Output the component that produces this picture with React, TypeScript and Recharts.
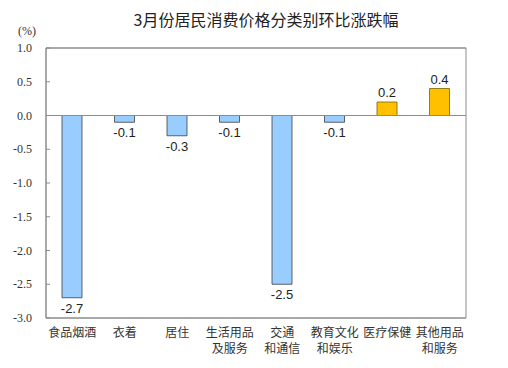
import { BarChart, Bar, XAxis, YAxis, Cell, LabelList, ReferenceLine, CartesianGrid } from "recharts";

const categories = [
  "食品烟酒",
  "衣着",
  "居住",
  "生活用品\n及服务",
  "交通\n和通信",
  "教育文化\n和娱乐",
  "医疗保健",
  "其他用品\n和服务",
];
const changes = [-2.7, -0.1, -0.3, -0.1, -2.5, -0.1, 0.2, 0.4];
const yTicks = [-3.0, -2.5, -2.0, -1.5, -1.0, -0.5, 0.0, 0.5, 1.0];

const data = categories.map((name, i) => ({ name, value: changes[i] }));

const AXIS = "#8c8c8c";

const XTick = (props: any) => {
  const { x, y, payload } = props;
  const lines = String(payload.value).split("\n");
  return (
    <g>
      {lines.map((l, i) => (
        <text
          key={i}
          x={x}
          y={y + 19 + i * 16}
          textAnchor="middle"
          fontSize={12}
          fill="#333"
          fontFamily="'Noto Sans CJK SC', sans-serif"
        >
          {l}
        </text>
      ))}
    </g>
  );
};

const YTick = (props: any) => {
  const { x, y, payload } = props;
  return (
    <g>
      <line x1={x + 14} x2={x + 18} y1={y} y2={y} stroke={AXIS} />
      <text
        x={x}
        y={y + 4}
        textAnchor="end"
        fontSize={12}
        fill="#333"
        fontFamily="'Liberation Serif', 'Times New Roman', serif"
      >
        {Number(payload.value).toFixed(1)}
      </text>
    </g>
  );
};

const ValueLabel = (props: any) => {
  const { x, y, width, height, value } = props;
  const top = Math.min(y, y + height);
  const bottom = Math.max(y, y + height);
  const ty = value < 0 ? bottom + 15 : top - 5;
  return (
    <text
      x={x + width / 2}
      y={ty}
      textAnchor="middle"
      fontSize={13}
      fill="#222"
      fontFamily="'Liberation Sans', Arial, sans-serif"
    >
      {Number(value).toFixed(1)}
    </text>
  );
};

export default function App() {
  return (
    <div
      style={{
        position: "absolute",
        left: 0,
        top: 0,
        width: 508,
        height: 368,
        background: "#fff",
      }}
    >
      <div
        style={{
          position: "absolute",
          left: 0,
          width: 532,
          top: 8,
          textAlign: "center",
          fontSize: 16,
          lineHeight: "22px",
          color: "#222",
          fontFamily: "'Noto Sans CJK SC', sans-serif",
        }}
      >
        3月份居民消费价格分类别环比涨跌幅
      </div>
      <div
        style={{
          position: "absolute",
          left: 18,
          top: 24,
          fontSize: 12,
          color: "#333",
          fontFamily: "'Liberation Serif', serif",
        }}
      >
        (%)
      </div>
      <BarChart
        width={508}
        height={368}
        data={data}
        margin={{ top: 48, right: 42, bottom: 0, left: 0 }}
        barSize={20}
      >
        {/* plot frame: grid lines only on the plot edges */}
        <CartesianGrid
          stroke={AXIS}
          verticalCoordinatesGenerator={({ offset }: any) => [
            offset.left,
            offset.left + offset.width,
          ]}
          horizontalCoordinatesGenerator={({ offset }: any) => [
            offset.top,
            offset.top + offset.height,
          ]}
        />
        <XAxis
          dataKey="name"
          height={50}
          interval={0}
          axisLine={{ stroke: AXIS }}
          tickLine={false}
          tickSize={0}
          tickMargin={0}
          tick={<XTick />}
        />
        <YAxis
          width={46}
          domain={[-3, 1]}
          ticks={yTicks}
          interval={0}
          axisLine={{ stroke: AXIS }}
          tickLine={false}
          tickSize={0}
          tickMargin={14}
          tick={<YTick />}
        />
        <ReferenceLine y={0} stroke={AXIS} />
        <ReferenceLine y={1} stroke={AXIS} />
        <Bar dataKey="value" isAnimationActive={false} strokeWidth={0.8}>
          {data.map((d, i) => (
            <Cell
              key={i}
              fill={d.value < 0 ? "#99CCFF" : "#FFC000"}
              stroke={d.value < 0 ? "#3f3f3f" : "#7f6000"}
            />
          ))}
          <LabelList dataKey="value" content={<ValueLabel />} />
        </Bar>
      </BarChart>
    </div>
  );
}
